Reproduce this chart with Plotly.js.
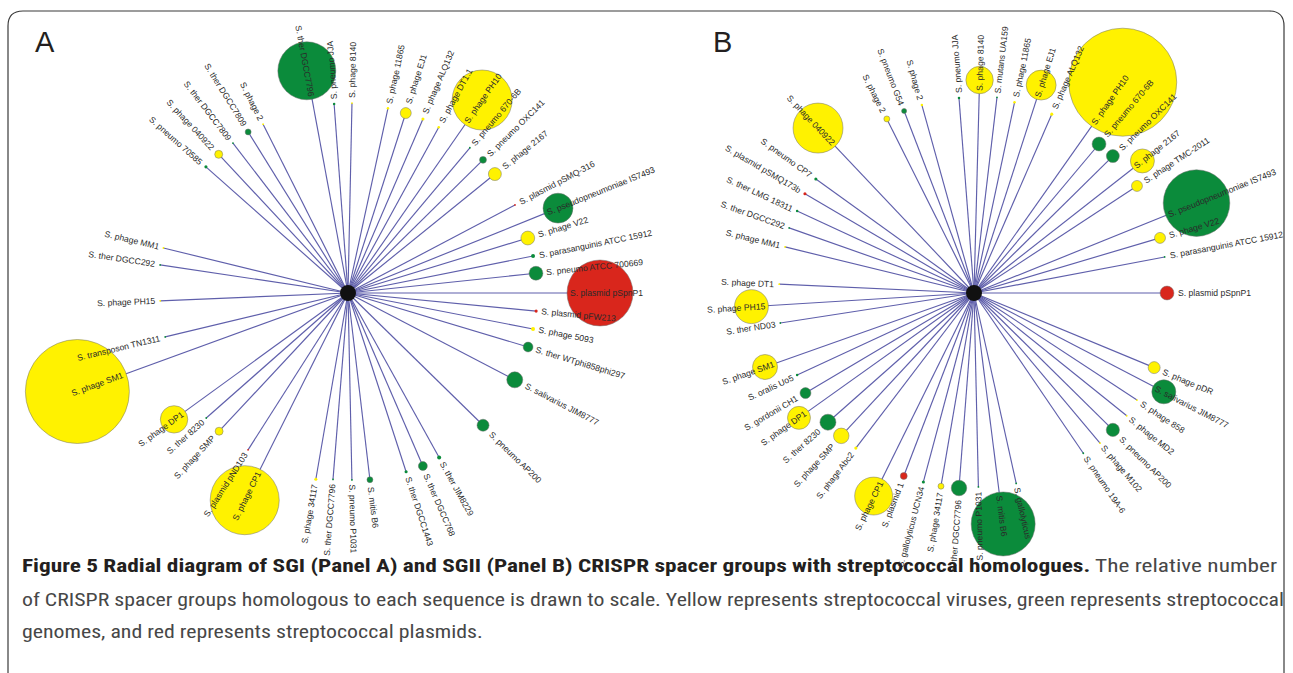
<!DOCTYPE html>
<html><head><meta charset="utf-8">
<script src="https://cdn.plot.ly/plotly-3.0.1.min.js"></script>
<style>html,body{margin:0;padding:0;background:#fff;overflow:hidden}#chart{width:1293px;height:673px}</style>
</head><body><div id="chart"></div>
<script>
// ---------------- Panel A (SGI) data ----------------
const labelsA = ["S. plasmid pSpnP1","S. plasmid pFW213","S. phage 5093","S. ther WTphi858phi297","S. salivarius JIM8777","S. pneumo AP200","S. ther JIM8229","S. ther DGCC768","S. ther DGCC1443","S. mitis B6","S. pneumo P1031","S. ther DGCC7796","S. phage 34117","S. phage CP1","S. plasmid pND103","S. phage SMP","S. ther 8230","S. phage DP1","S. phage SM1","S. transposon TN1311","S. phage PH15","S. ther DGCC292","S. phage MM1","S. pneumo 70585","S. phage 040922","S. ther DGCC7809","S. ther DGCC7809","S. phage 2","S. ther DGCC7796","S. pneumo JJA","S. phage 8140","S. phage 11865","S. phage EJ1","S. phage ALQ132","S. phage DT1.1","S. phage PH10","S. pneumo 670-6B","S. pneumo OXC141","S. phage 2167","S. plasmid pSMQ-316","S. pseudopneumoniae IS7493","S. phage V22","S. parasanguinis ATCC 15912","S. pneumo ATCC 700669"];
// V = streptococcal virus, G = streptococcal genome, P = streptococcal plasmid
const typeA = ["P","P","V","G","G","G","G","G","G","G","G","G","V","V","P","V","G","V","V","G","V","G","V","G","V","G","G","V","G","G","V","V","V","V","V","V","G","G","V","P","G","V","G","G"];
const angleA = [0,5.5,11,16.7,27.5,44.4,61,66.6,72,83.3,88.8,94.6,99.8,116.5,122.5,133,138.6,144,160,166.5,177.6,188.5,193.7,221.6,227,232.5,238.2,243.3,259.5,265.8,271.2,282.2,287.8,293.3,298.7,304.8,310,315.4,321,332.2,338,343,348.7,354];
const spokeA = [252,189,188.5,188,188,189,188,188.5,188,188,187,187,189,231.5,186,189,189,215,288,188,188,190,190,190,189.6,189,189.5,189,226,189.5,190,189,189,189.5,189,235,189.6,189.6,189,188.8,226.5,188,188.7,189];
// relative number of homologous CRISPR spacer groups (circle area)
const groupsA = [272,0.6,1,6,16,9,1,5,0.6,2.2,0.2,0.2,0.6,298,0.2,4,0.2,47,676,0.2,0.2,0.2,0.2,0.6,4,0.2,2.2,0.2,210,0.4,0.2,0.4,7.5,0.6,0.4,225,0.2,3,10.5,0.2,56,12,1,12];

// ---------------- Panel B (SGII) data ----------------
const labelsB = ["S. plasmid pSpnP1","S. phage pDR","S. salivarius JIM8777","S. phage 858","S. phage MD2","S. pneumo AP200","S. phage M102","S. pneumo 19A-6","S. gallolyticus","S. mitis B6","S. pneumo P1031","S. ther DGCC7796","S. phage 34117","S. gallolyticus UCN34","S. plasmid 1","S. phage CP1","S. phage Abc2","S. phage SMP","S. ther 8230","S. phage DP1","S. gordonii CH1","S. oralis Uo5","S. phage SM1","S. ther ND03","S. phage PH15","S. phage DT1","S. phage MM1","S. ther DGCC292","S. ther LMG 18311","S. plasmid pSMQ173b","S. pneumo CP7","S. phage 040922","S. phage 2","S. pneumo G54","S. phage 2","S. pneumo JJA","S. phage 8140","S. mutans UA159","S. phage 11865","S. phage EJ1","S. phage ALQ132","S. phage PH10","S. pneumo 670-6B","S. pneumo OXC141","S. phage 2167","S. phage TMC-2011","S. pseudopneumoniae IS7493","S. phage V22","S. parasanguinis ATCC 15912"];
const typeB = ["P","V","G","V","V","G","V","G","G","G","G","G","V","G","P","V","V","V","G","V","G","G","V","G","V","V","V","G","G","P","G","V","V","G","V","G","V","G","V","V","V","V","G","G","V","V","G","V","G"];
const angleB = [0,22.5,27.5,33.3,38.8,44.6,50,55.7,77.5,82.8,88.7,94.4,99.7,105,111,116.3,127.3,132.9,138.5,144.5,149.3,155.1,160.5,171.2,176.5,182.6,193.7,199.4,204.9,210.4,215.8,226.6,243.4,249,254.5,265.6,271.5,276.7,282,287.9,293.5,305.2,310,315.4,321.9,326.7,338,343.5,349.3];
const spokeB = [193,195,214,195,196,195,196,194,195,232.8,194,195.6,196,195.6,196,226.5,195,195,195,215,196,195,221.7,196,223,195,194.5,196,195,196,195,227,194.7,195,195,195.6,213,197,195,218.5,195,258,194.5,195,214,195,240,194,194];
const groupsB = [12,9,36,0.2,0.2,11,0.2,0.2,0.2,256,0.2,15,2.2,0.6,3,90,0.6,15,16,33,7.5,0.4,39,0.2,72,0.2,0.2,0.2,0.4,0.6,0.6,156,2.2,1.6,0.4,0.4,47,0.2,0.4,56,0.6,729,12,10.5,36,7.5,277,7.5,0.2];

const captionBold = "Figure 5 Radial diagram of SGI (Panel A) and SGII (Panel B) CRISPR spacer groups with streptococcal homologues.";
const captionLines = [" The relative number",
  "of CRISPR spacer groups homologous to each sequence is drawn to scale. Yellow represents streptococcal viruses, green represents streptococcal",
  "genomes, and red represents streptococcal plasmids."];

// ---------------- styles ----------------
const W = 1293, H = 673;
const COLORS = {V:'#fff200', G:'#0b8b3b', P:'#d9261c'};
const SPOKE = '#5f5fab';
const LABEL_FAMILY = '"Liberation Sans", Arial, sans-serif';
const LABEL_SIZE = 8.6;
const LABEL_COLOR = '#2a2a2a';
const CAP_SIZE = 18.5;
const CAP_TARGET = [1255, 1262];   // reference widths of caption lines 1 and 2 (px)

const ctx = document.createElement('canvas').getContext('2d');
function textW(t, size, fam, weight){ ctx.font = (weight||'normal') + ' ' + size + 'px ' + fam; return ctx.measureText(t).width; }
function svgWidth(text, family, size, weight){
  const NS = 'http://www.w3.org/2000/svg';
  const svg = document.createElementNS(NS, 'svg');
  svg.setAttribute('width', '3000'); svg.setAttribute('height', '60');
  svg.style.position = 'absolute'; svg.style.left = '-4000px'; svg.style.top = '0';
  const t = document.createElementNS(NS, 'text');
  t.setAttribute('x', '0'); t.setAttribute('y', '40');
  t.style.fontFamily = family; t.style.fontSize = size + 'px'; t.style.fontWeight = weight || 'normal';
  t.textContent = text; svg.appendChild(t); document.body.appendChild(svg);
  const w = t.getComputedTextLength(); document.body.removeChild(svg); return w;
}
const px = x => x / W, py = y => 1 - y / H;

// choose a genuinely condensed face if one is installed
const sample = 'of CRISPR spacer groups homologous to each sequence';
const baseW = svgWidth(sample, '"Liberation Sans"', 20);
let capFamily = '"Liberation Sans", sans-serif';
for (const name of ['Liberation Sans Narrow','DejaVu Sans Condensed','Noto Sans Condensed','Roboto Condensed','Open Sans Condensed']) {
  if (svgWidth(sample, '"' + name + '", "Liberation Sans"', 20) < 0.9 * baseW) { capFamily = '"' + name + '", "Liberation Sans", sans-serif'; break; }
}

const panels = [
  {labels:labelsA, type:typeA, angle:angleA, spoke:spokeA, groups:groupsA, hub:[348,293], left:8, right:648, flipBottom:92, flipTop:262, xa:'x', ya:'y'},
  {labels:labelsB, type:typeB, angle:angleB, spoke:spokeB, groups:groupsB, hub:[974,293], left:650, right:1290, flipBottom:86, flipTop:262, xa:'x2', ya:'y2'}
];
const TOP = 12, BOTTOM = 548;

const data = [], annotations = [];
const layout = {width:W, height:H, margin:{l:0,r:0,t:0,b:0}, paper_bgcolor:'#fff', plot_bgcolor:'rgba(0,0,0,0)', showlegend:false, font:{family:LABEL_FAMILY}};

panels.forEach((p, k) => {
  const sx=[], sy=[], nx=[], ny=[], ns=[], nc=[], nl=[];
  p.labels.forEach((lab, i) => {
    const a = p.angle[i] * Math.PI / 180, c = Math.cos(a), s = Math.sin(a);
    const d = p.spoke[i];
    const r = 2 * Math.sqrt(p.groups[i]);
    sx.push(0, d*c, null); sy.push(0, -d*s, null);
    nx.push(d*c); ny.push(-d*s); ns.push(2*r); nc.push(COLORS[p.type[i]]); nl.push(r > 2 ? 0.7 : 0);
    const start = r >= 10 ? d - r + 3 : d + r + 4;
    const w = textW(lab, LABEL_SIZE, LABEL_FAMILY);
    const m = start + w / 2;
    const deg = p.angle[i];
    const right = deg < p.flipBottom || deg > p.flipTop;
    const ta = right ? (deg > 180 ? deg - 360 : deg) : deg - 180;
    annotations.push({xref:p.xa, yref:p.ya, x:m*c, y:-m*s, text:lab, showarrow:false, textangle:ta,
      xanchor:'center', yanchor:'middle', font:{family:LABEL_FAMILY, size:LABEL_SIZE, color:LABEL_COLOR}});
  });
  data.push({type:'scatter', mode:'lines', x:sx, y:sy, xaxis:p.xa, yaxis:p.ya, line:{color:SPOKE, width:1.15}, hoverinfo:'skip', cliponaxis:false});
  data.push({type:'scatter', mode:'markers', x:[0], y:[0], xaxis:p.xa, yaxis:p.ya, marker:{color:'#111', size:16}, hoverinfo:'skip', cliponaxis:false});
  data.push({type:'scatter', mode:'markers', x:nx, y:ny, xaxis:p.xa, yaxis:p.ya, cliponaxis:false, hoverinfo:'skip',
    marker:{size:ns, color:nc, opacity:1, line:{color:'rgba(110,110,110,0.7)', width:nl}}});
  const xk = k === 0 ? 'xaxis' : 'xaxis2', yk = k === 0 ? 'yaxis' : 'yaxis2';
  layout[xk] = {domain:[px(p.left), px(p.right)], range:[p.left - p.hub[0], p.right - p.hub[0]], visible:false, fixedrange:true};
  layout[yk] = {domain:[py(BOTTOM), py(TOP)], range:[p.hub[1] - BOTTOM, p.hub[1] - TOP], visible:false, fixedrange:true};
  if (k === 1) { layout[yk].anchor = 'x2'; layout[xk].anchor = 'y2'; }
});

// panel letters
annotations.push({xref:'paper', yref:'paper', x:px(45), y:py(42), text:'A', showarrow:false, xanchor:'center', yanchor:'middle', font:{family:LABEL_FAMILY, size:29, color:'#231f20'}});
annotations.push({xref:'paper', yref:'paper', x:px(722), y:py(42), text:'B', showarrow:false, xanchor:'center', yanchor:'middle', font:{family:LABEL_FAMILY, size:29, color:'#231f20'}});

// caption
const capY = [566, 600, 632];
const capTexts = ['<b>' + captionBold + '</b><span style="color:#474747">' + captionLines[0] + '</span>', captionLines[1], captionLines[2]];
capTexts.forEach((t, j) => annotations.push({xref:'paper', yref:'paper', x:px(20), y:py(capY[j]), xanchor:'left', yanchor:'middle', showarrow:false, align:'left',
  text:t, font:{family:capFamily, size:CAP_SIZE, color: j === 0 ? '#231f20' : '#474747'}}));
layout.annotations = annotations;

// rounded frame around the figure
const fp = (x, y) => px(x).toFixed(5) + ',' + py(y).toFixed(5);
layout.shapes = [{type:'path', xref:'paper', yref:'paper', line:{color:'#3a3a3a', width:1.2},
  path:'M' + fp(8,690) + ' L' + fp(8,26) + ' Q' + fp(8,11) + ' ' + fp(23,11) + ' L' + fp(1269,11) + ' Q' + fp(1284,11) + ' ' + fp(1284,26) + ' L' + fp(1284,690)}];

Plotly.newPlot('chart', data, layout, {staticPlot:true, displayModeBar:false}).then(gd => {
  // condense the caption lines horizontally to the reference line widths
  const texts = Array.from(gd.querySelectorAll('text.annotation-text'));
  const find = s => texts.find(t => t.textContent.indexOf(s) === 0);
  const l1 = find('Figure 5'), l2 = find('of CRISPR'), l3 = find('genomes, and');
  if (l2) {
    const ratio = CAP_TARGET[1] / l2.getComputedTextLength();
    const w3 = l3 ? l3.getComputedTextLength() * ratio : 0;
    [[l1, CAP_TARGET[0]], [l2, CAP_TARGET[1]], [l3, w3]].forEach(([el, w]) => {
      if (el && w > 0) { el.setAttribute('textLength', w.toFixed(1)); el.setAttribute('lengthAdjust', 'spacingAndGlyphs'); }
    });
  }
});
</script></body></html>
